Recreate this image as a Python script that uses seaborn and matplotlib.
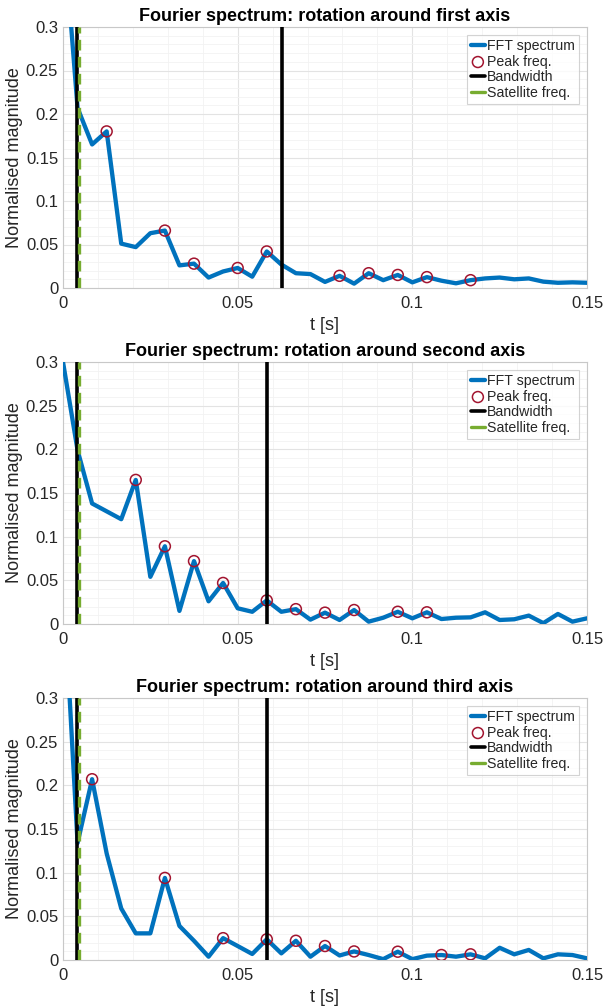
import numpy as np
import pandas as pd
import matplotlib
matplotlib.use("Agg")
import matplotlib.pyplot as plt
import seaborn as sns
from matplotlib.ticker import MultipleLocator

# ---------------- data ----------------
t = [0.0, 0.00417, 0.00833, 0.0125, 0.01667, 0.02083, 0.025, 0.02917, 0.03333,
     0.0375, 0.04167, 0.04583, 0.05, 0.05417, 0.05833, 0.0625, 0.06667, 0.07083,
     0.075, 0.07917, 0.08333, 0.0875, 0.09167, 0.09583, 0.1, 0.10417, 0.10833,
     0.1125, 0.11667, 0.12083, 0.125, 0.12917, 0.13333, 0.1375, 0.14167, 0.14583, 0.15]

mag_first = [0.42, 0.207, 0.165, 0.180, 0.051, 0.047, 0.063, 0.066, 0.026,
             0.028, 0.012, 0.019, 0.023, 0.013, 0.042, 0.027, 0.017, 0.016,
             0.007, 0.014, 0.005, 0.017, 0.009, 0.015, 0.0065, 0.0125, 0.0084,
             0.0054, 0.009, 0.011, 0.012, 0.010, 0.011, 0.0073, 0.006, 0.0065, 0.006]

mag_second = [0.30, 0.199, 0.138, 0.129, 0.120, 0.165, 0.054, 0.089, 0.015,
              0.072, 0.026, 0.047, 0.018, 0.014, 0.027, 0.014, 0.017, 0.005,
              0.013, 0.0046, 0.016, 0.0027, 0.0072, 0.014, 0.0065, 0.0134, 0.0057,
              0.0072, 0.0076, 0.0134, 0.0046, 0.0054, 0.0096, 0.001, 0.0115, 0.0027, 0.0065]

mag_third = [0.44, 0.134, 0.207, 0.122, 0.059, 0.0305, 0.0305, 0.094, 0.039,
             0.022, 0.0038, 0.025, 0.016, 0.0069, 0.0237, 0.0076, 0.022, 0.0038,
             0.016, 0.0052, 0.0098, 0.0057, 0.001, 0.0095, 0.001, 0.005, 0.0057,
             0.0038, 0.0065, 0.0019, 0.014, 0.0065, 0.0115, 0.0019, 0.0065, 0.0057, 0.0019]

peaks_first = [0.0125, 0.02917, 0.0375, 0.05, 0.05833, 0.07917, 0.0875, 0.09583, 0.10417, 0.11667]
peaks_second = [0.02083, 0.02917, 0.0375, 0.04583, 0.05833, 0.06667, 0.075, 0.08333, 0.09583, 0.10417]
peaks_third = [0.00833, 0.02917, 0.04583, 0.05833, 0.06667, 0.075, 0.08333, 0.09583, 0.10833, 0.11667]

bandwidth_first = [0.0039, 0.0626]
bandwidth_second = [0.0039, 0.0583]
bandwidth_third = [0.0039, 0.0583]
satellite_freq = 0.0047

titles = ["Fourier spectrum: rotation around first axis",
          "Fourier spectrum: rotation around second axis",
          "Fourier spectrum: rotation around third axis"]

x_ticks = [0, 0.05, 0.1, 0.15]
x_ticklabels = ["0", "0.05", "0.1", "0.15"]
y_ticks = [0, 0.05, 0.1, 0.15, 0.2, 0.25, 0.3]
y_ticklabels = ["0", "0.05", "0.1", "0.15", "0.2", "0.25", "0.3"]

# ---------------- style ----------------
sns.set_theme(style="white")
plt.rcParams['font.family'] = ['Liberation Sans', 'DejaVu Sans']

BLUE = "#0072BD"
RED = "#A2142F"
GREEN = "#77AC30"
TXT = "#262626"

fig = plt.figure(figsize=(6.03, 10.07), dpi=100)
W, H = 603, 1007
panels = [(27, 288), (362, 624), (698, 960)]
left_px, right_px = 63, 587

series = [mag_first, mag_second, mag_third]
peaks = [peaks_first, peaks_second, peaks_third]
bands = [bandwidth_first, bandwidth_second, bandwidth_third]

for i in range(3):
    top, bot = panels[i]
    ax = fig.add_axes([left_px / W, 1 - bot / H, (right_px - left_px) / W, (bot - top) / H])
    df = pd.DataFrame({"t": t, "mag": series[i]})
    pk = df[df["t"].round(5).isin(np.round(peaks[i], 5))]

    ax.set_axisbelow(True)
    ax.grid(True, which="major", color="#e3e3e3", lw=0.8)
    ax.grid(True, which="minor", color="#f2f2f2", lw=0.6)

    sns.lineplot(data=df, x="t", y="mag", ax=ax, color=BLUE, lw=3.1,
                 label="FFT spectrum", zorder=3)
    sns.scatterplot(data=pk, x="t", y="mag", ax=ax, marker="o", s=62,
                    facecolor="none", edgecolor=RED, linewidth=1.1,
                    label="Peak freq.", zorder=4)
    for j, b in enumerate(bands[i]):
        ax.axvline(b, color="black", lw=2.6, zorder=5,
                   label="Bandwidth" if j == 0 else None)
    ax.axvline(satellite_freq, color=GREEN, lw=2.4, ls=(0, (3.2, 1.9)), zorder=6,
               label="Satellite freq.")

    ax.set_xlim(0, 0.15)
    ax.set_ylim(0, 0.3)
    ax.set_xticks(x_ticks)
    ax.set_xticklabels(x_ticklabels)
    ax.set_yticks(y_ticks)
    ax.set_yticklabels(y_ticklabels)
    ax.xaxis.set_minor_locator(MultipleLocator(0.01))
    ax.yaxis.set_minor_locator(MultipleLocator(0.01))
    ax.tick_params(axis="both", which="both", length=0, labelsize=12, colors=TXT)
    ax.tick_params(axis="x", pad=6)
    ax.tick_params(axis="y", pad=3.5)
    for sp in ax.spines.values():
        sp.set_color("#c8c8c8")
        sp.set_linewidth(0.8)

    ax.set_xlabel("t [s]", fontsize=13, color=TXT, labelpad=4)
    ax.set_ylabel("Normalised magnitude", fontsize=13, color=TXT, labelpad=2)
    ax.set_title(titles[i], fontsize=13, fontweight="bold", color="black", pad=4)

    leg = ax.legend(loc="upper right", fontsize=10.2, handlelength=1.0,
                    handletextpad=0.15, borderpad=0.3, labelspacing=0.12,
                    frameon=True, fancybox=False, borderaxespad=0.55)
    leg.get_frame().set_edgecolor("#c8c8c8")
    leg.get_frame().set_linewidth(0.8)
    for line in leg.get_lines():
        line.set_linestyle("-")

fig.savefig("out.png", dpi=100, facecolor="white")
